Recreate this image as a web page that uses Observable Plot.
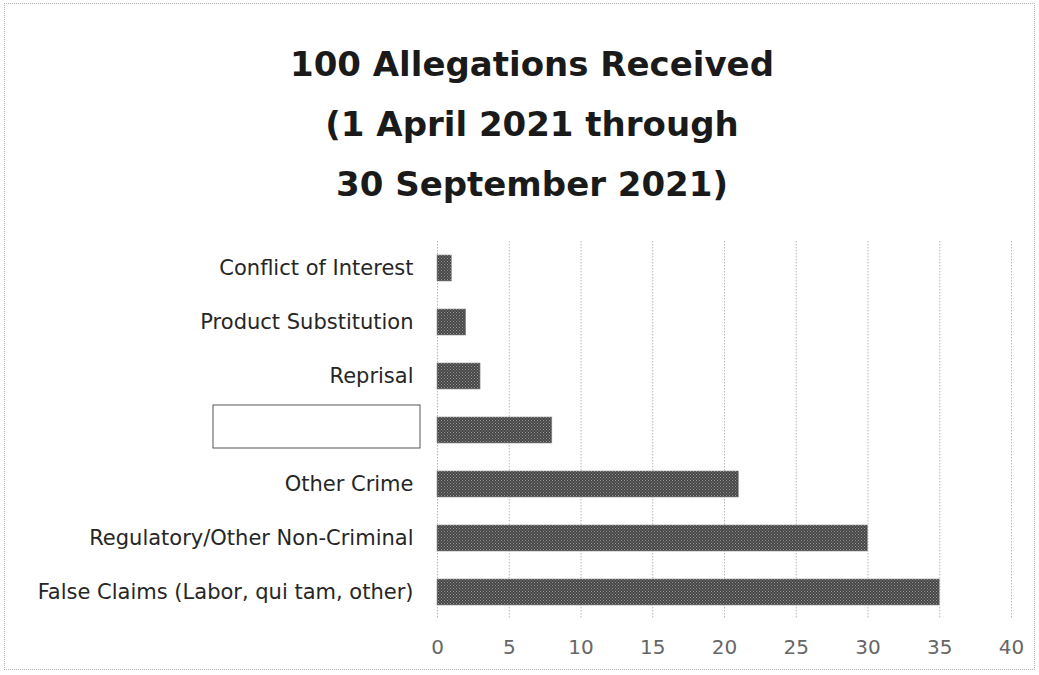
<!DOCTYPE html>
<html><head><meta charset="utf-8">
<script src="https://cdn.jsdelivr.net/npm/d3@7"></script>
<script src="https://cdn.jsdelivr.net/npm/@observablehq/plot@0.6"></script>
<style>
body{margin:0;background:#fff;}
#wrap{position:relative;width:1039px;height:675px;overflow:hidden;background:#fff;}
#border{position:absolute;left:4px;top:3px;width:1029px;height:665px;border:1px dotted #b0b0b0;}
#title{position:absolute;left:0;top:34px;width:1064px;text-align:center;font-family:"DejaVu Sans",sans-serif;font-weight:bold;font-size:34px;line-height:60px;color:#1a1a1a;}
#chart{position:absolute;left:0;top:225px;}
</style></head>
<body>
<div id="wrap">
<div id="border"></div>
<div id="title">100 Allegations Received<br>(1 April 2021 through<br>30 September 2021)</div>
<div id="chart"></div>
</div>
<script>
const REDACTED = "(redacted)";
const categories = ["Conflict of Interest","Product Substitution","Reprisal",REDACTED,"Other Crime","Regulatory/Other Non-Criminal","False Claims (Labor, qui tam, other)"];
const counts = [1,2,3,8,21,30,35];
const xTicks = [0,5,10,15,20,25,30,35,40];

const data = categories.map((c,i)=>({category:c,count:counts[i]}));

const redactionBox = (index, scales, values, dimensions) => {
  const svgNS = "http://www.w3.org/2000/svg";
  const g = document.createElementNS(svgNS,"g");
  const ys = scales.y;
  const bw = typeof ys.bandwidth === "function" ? ys.bandwidth() : (scales.scales?.y?.bandwidth ?? 0);
  const cy = ys(REDACTED) + bw/2;
  const r = document.createElementNS(svgNS,"rect");
  const x0 = dimensions.marginLeft;
  r.setAttribute("x", x0 - 224);
  r.setAttribute("y", cy - 25);
  r.setAttribute("width", 207);
  r.setAttribute("height", 43);
  r.setAttribute("fill","#fff");
  r.setAttribute("stroke","#555");
  r.setAttribute("stroke-width","1");
  g.appendChild(r);
  return g;
};

const plot = Plot.plot({
  width: 1039,
  height: 450,
  marginLeft: 437,
  marginRight: 28,
  marginTop: 16,
  marginBottom: 56,
  style: {fontFamily: "'DejaVu Sans', sans-serif", fontSize: "21px", background: "transparent"},
  x: {domain: [0,40], ticks: xTicks},
  y: {domain: categories, paddingInner: 0.52, paddingOuter: 0.26, align: 0.5},
  marks: [
    Plot.gridX(xTicks, {stroke: "#b8b8b8", strokeOpacity: 1, strokeDasharray: "1.5,1.5"}),
    Plot.barX(data, {x: "count", y: "category", fill: "url(#dotpat)", stroke: "#8a8a8a", strokeWidth: 0.6}),
    Plot.axisX({ticks: xTicks, tickSize: 0, tickPadding: 20, label: null, fill: "#666", fontSize: 20}),
    Plot.axisY({tickSize: 0, tickPadding: 24, label: null, fill: "#262626", fontSize: 21, tickFormat: d => d === REDACTED ? "" : d}),
    redactionBox
  ]
});
const svgNS = "http://www.w3.org/2000/svg";
const defs = document.createElementNS(svgNS,"defs");
defs.innerHTML = '<pattern id="dotpat" width="3" height="3" patternUnits="userSpaceOnUse"><rect width="3" height="3" fill="#444"/><rect x="0" y="0" width="1" height="1" fill="#999"/><rect x="1.5" y="1.5" width="1" height="1" fill="#999"/></pattern>';
plot.insertBefore(defs, plot.firstChild);
document.getElementById("chart").appendChild(plot);
</script>
</body></html>
